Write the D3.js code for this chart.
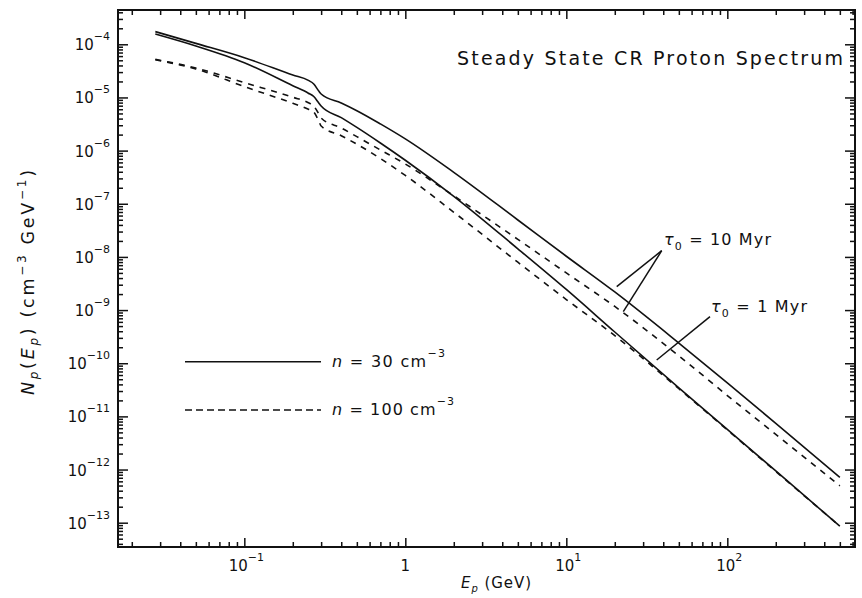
<!DOCTYPE html>
<html><head><meta charset="utf-8">
<script src="https://cdn.jsdelivr.net/npm/d3@7"></script>
<style>
html,body{margin:0;padding:0;background:#fff;}
svg{display:block;}
text{font-family:"DejaVu Sans",sans-serif;fill:#111;}
</style></head>
<body>
<svg id="chart" width="862" height="598"></svg>
<script>
// ---- data ----
const energyGeV = [0.028,0.05,0.1,0.2,0.25,0.27,0.29,0.3,0.4,0.5,0.7,1,2,5,10,20,50,100,200,500];
// tau0 = 10 Myr, n = 30 cm^-3 (solid)
const solidTau10 = [1.73e-4,1.04e-4,5.6e-5,2.64e-5,2.09e-5,1.79e-5,1.32e-5,1.16e-5,7.87e-6,5.64e-6,3.18e-6,1.66e-6,3.9e-7,4.95e-8,1.03e-8,2.19e-9,2.4e-10,4.29e-11,7.36e-12,7.1e-13];
// tau0 = 1 Myr, n = 30 cm^-3 (solid)
const solidTau1 = [1.56e-4,9.3e-5,4.5e-5,1.66e-5,1.2e-5,1.04e-5,7.87e-6,6.9e-6,4.17e-6,2.73e-6,1.39e-6,6.58e-7,1.38e-7,1.42e-8,2.44e-9,3.87e-10,3.45e-11,5.7e-12,9.4e-13,8.6e-14];
// tau0 = 10 Myr, n = 100 cm^-3 (dashed)
const dashedTau10 = [5.2e-5,3.58e-5,1.9e-5,1.01e-5,7.96e-6,6.9e-6,4.89e-6,4.1e-6,2.66e-6,1.83e-6,1.03e-6,5.6e-7,1.41e-7,2.14e-8,5.0e-9,1.17e-9,1.38e-10,2.47e-11,4.57e-12,4.93e-13];
// tau0 = 1 Myr, n = 100 cm^-3 (dashed)
const dashedTau1 = [5.1e-5,3.43e-5,1.6e-5,7.76e-6,6.0e-6,5.32e-6,3.6e-6,2.9e-6,1.91e-6,1.32e-6,7.1e-7,3.41e-7,6.92e-8,7.94e-9,1.58e-9,3.31e-10,3.31e-11,5.56e-12,9.2e-13,8.6e-14];

const xMajorTicks = [0.1,1,10,100];
const xMajorLabels = [["10","−1"],["1",""],["10","1"],["10","2"]];
const yMajorTicks = [1e-4,1e-5,1e-6,1e-7,1e-8,1e-9,1e-10,1e-11,1e-12,1e-13];
const yMajorLabels = ["−4","−5","−6","−7","−8","−9","−10","−11","−12","−13"];
const titleText = "Steady State CR Proton Spectrum";
const legendLabels = [["n"," = 30 cm","−3"],["n"," = 100 cm","−3"]];

// ---- layout ----
const svg = d3.select("#chart");
const L=118, R=855, T=10, B=547;
const x = d3.scaleLog().domain([0.01642, 621]).range([L, R]);
const y = d3.scaleLog().domain([3.49e-14, 4.417e-4]).range([B, T]);

// minor tick values
const xMinor = [];
for (let d=-2; d<=2; d++) for (let m=2; m<=9; m++){const v=m*Math.pow(10,d); if(v>x.domain()[0]&&v<x.domain()[1]) xMinor.push(v);}
const yMinor = [];
for (let d=-14; d<=-4; d++) for (let m=2; m<=9; m++){const v=m*Math.pow(10,d); if(v>y.domain()[0]&&v<y.domain()[1]) yMinor.push(v);}

function styleAxis(g){ g.select(".domain").remove(); g.selectAll("line").attr("stroke","#111").attr("stroke-width",1.5); }

// bottom
svg.append("g").attr("transform",`translate(0,${B})`).call(d3.axisBottom(x).tickValues(xMajorTicks).tickFormat("").tickSizeInner(-9).tickSizeOuter(0)).call(styleAxis);
svg.append("g").attr("transform",`translate(0,${B})`).call(d3.axisBottom(x).tickValues(xMinor).tickFormat("").tickSizeInner(-5).tickSizeOuter(0)).call(styleAxis);
// top
svg.append("g").attr("transform",`translate(0,${T})`).call(d3.axisTop(x).tickValues(xMajorTicks).tickFormat("").tickSizeInner(-9).tickSizeOuter(0)).call(styleAxis);
svg.append("g").attr("transform",`translate(0,${T})`).call(d3.axisTop(x).tickValues(xMinor).tickFormat("").tickSizeInner(-5).tickSizeOuter(0)).call(styleAxis);
// left
svg.append("g").attr("transform",`translate(${L},0)`).call(d3.axisLeft(y).tickValues(yMajorTicks).tickFormat("").tickSizeInner(-10).tickSizeOuter(0)).call(styleAxis);
svg.append("g").attr("transform",`translate(${L},0)`).call(d3.axisLeft(y).tickValues(yMinor).tickFormat("").tickSizeInner(-5).tickSizeOuter(0)).call(styleAxis);
// right
svg.append("g").attr("transform",`translate(${R},0)`).call(d3.axisRight(y).tickValues(yMajorTicks).tickFormat("").tickSizeInner(-10).tickSizeOuter(0)).call(styleAxis);
svg.append("g").attr("transform",`translate(${R},0)`).call(d3.axisRight(y).tickValues(yMinor).tickFormat("").tickSizeInner(-5).tickSizeOuter(0)).call(styleAxis);

// frame
svg.append("rect").attr("x",L).attr("y",T).attr("width",R-L).attr("height",B-T)
  .attr("fill","none").attr("stroke","#111").attr("stroke-width",2);

// y tick labels
yMajorTicks.forEach((v,i)=>{
  const t = svg.append("text").attr("x",110).attr("y",y(v)+6).attr("text-anchor","end").style("font-size","15px");
  t.append("tspan").text("10");
  t.append("tspan").attr("dy",-10).style("font-size","11px").text(yMajorLabels[i]);
});
// x tick labels
xMajorTicks.forEach((v,i)=>{
  const t = svg.append("text").attr("x",x(v)+(xMajorLabels[i][1]?2:0)).attr("y",571).attr("text-anchor","middle").style("font-size","15px");
  t.append("tspan").text(xMajorLabels[i][0]);
  if (xMajorLabels[i][1]) t.append("tspan").attr("dy",-10).style("font-size","11px").text(xMajorLabels[i][1]);
});

// axis titles
const xt = svg.append("text").attr("x",461).attr("y",588).style("font-size","15px")
  .attr("textLength",70).attr("lengthAdjust","spacing");
xt.append("tspan").style("font-style","italic").text("E");
xt.append("tspan").attr("dy",4).style("font-size","10px").style("font-style","italic").text("p");
xt.append("tspan").attr("dy",-4).text(" (GeV)");

const yt = svg.append("text").attr("transform","translate(34,395) rotate(-90)").style("font-size","17.5px")
  .attr("textLength",225).attr("lengthAdjust","spacing");
yt.append("tspan").style("font-style","italic").text("N");
yt.append("tspan").attr("dy",4).style("font-size","12px").style("font-style","italic").text("p");
yt.append("tspan").attr("dy",-4).text("(");
yt.append("tspan").style("font-style","italic").text("E");
yt.append("tspan").attr("dy",4).style("font-size","12px").style("font-style","italic").text("p");
yt.append("tspan").attr("dy",-4).text(")  (cm");
yt.append("tspan").attr("dy",-8).style("font-size","12px").text("−3");
yt.append("tspan").attr("dy",8).text("  GeV");
yt.append("tspan").attr("dy",-8).style("font-size","12px").text("−1");
yt.append("tspan").attr("dy",8).text(")");

// title
svg.append("text").attr("x",457).attr("y",65).style("font-size","19px")
  .attr("textLength",386).attr("lengthAdjust","spacing").text(titleText);

// curves
const line = d3.line().x(d=>x(d[0])).y(d=>y(d[1])).curve(d3.curveMonotoneX);
const series = [
  {vals: solidTau10, dash: null},
  {vals: solidTau1, dash: null},
  {vals: dashedTau10, dash: "6,6"},
  {vals: dashedTau1, dash: "6,6"}
];
series.forEach(s=>{
  svg.append("path").datum(energyGeV.map((e,i)=>[e,s.vals[i]]))
    .attr("d",line).attr("fill","none").attr("stroke","#111").attr("stroke-width",1.6)
    .attr("stroke-dasharray",s.dash);
});

// legend
const legendY = [361.7, 410];
const legendTextLen = [113, 122];
legendLabels.forEach((lab,i)=>{
  svg.append("line").attr("x1",185).attr("x2",321).attr("y1",legendY[i]).attr("y2",legendY[i])
    .attr("stroke","#111").attr("stroke-width",1.5).attr("stroke-dasharray", i?"7,4":null);
  const t = svg.append("text").attr("x",332).attr("y",legendY[i]+5).style("font-size","16px")
    .attr("textLength",legendTextLen[i]).attr("lengthAdjust","spacing");
  t.append("tspan").style("font-style","italic").text(lab[0]);
  t.append("tspan").text(lab[1]);
  t.append("tspan").attr("dy",-10).style("font-size","11px").text(lab[2]);
});

// annotations with pointer lines
function pointer(x1,y1,x2,y2){ svg.append("line").attr("x1",x1).attr("y1",y1).attr("x2",x2).attr("y2",y2).attr("stroke","#111").attr("stroke-width",1.5); }
pointer(661.7,250.7,616.7,286.7);
pointer(661.7,250.7,623.3,311.7);
pointer(710,316.7,656.7,360);
function tauLabel(xp,yp,val,len){
  const t = svg.append("text").attr("x",xp).attr("y",yp).style("font-size","16px")
    .attr("textLength",len).attr("lengthAdjust","spacing");
  t.append("tspan").style("font-style","italic").text("τ");
  t.append("tspan").attr("dy",5).style("font-size","11px").text("0");
  t.append("tspan").attr("dy",-5).text(" = " + val + " Myr");
}
tauLabel(664,245,"10",107);
tauLabel(711,312,"1",96);
</script>
</body></html>
